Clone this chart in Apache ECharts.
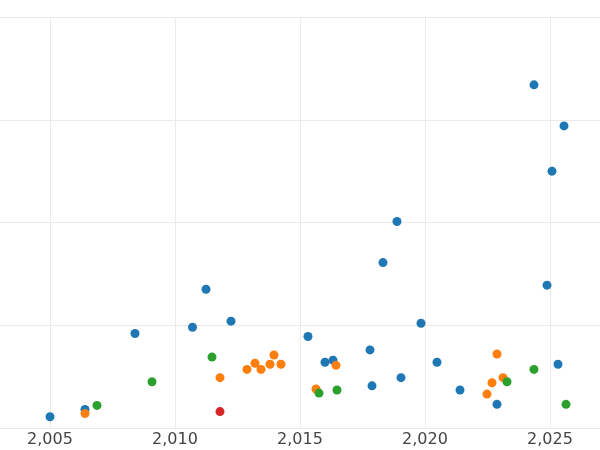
<!DOCTYPE html>
<html>
<head>
<meta charset="utf-8">
<script src="https://cdn.jsdelivr.net/npm/echarts@6/dist/echarts.min.js"></script>
<style>html,body{margin:0;padding:0;background:#fff}#main{width:600px;height:450px}</style>
</head>
<body>
<div id="main"></div>
<script>
const xTicks = [2005, 2010, 2015, 2020, 2025];
const blueX = [2005.0, 2006.4, 2008.4, 2010.7, 2011.24, 2012.24, 2015.32, 2016.0, 2016.32, 2017.8, 2017.88, 2018.32, 2018.88, 2019.04, 2019.84, 2020.48, 2021.4, 2022.88, 2024.36, 2024.88, 2025.08, 2025.32, 2025.56];
const blueY = [0.11, 0.18, 0.92, 0.98, 1.35, 1.04, 0.89, 0.64, 0.66, 0.76, 0.41, 1.61, 2.01, 0.49, 1.02, 0.64, 0.37, 0.23, 3.34, 1.39, 2.50, 0.62, 2.94];
const orangeX = [2006.4, 2011.8, 2012.88, 2013.2, 2013.44, 2013.8, 2013.96, 2014.24, 2015.64, 2016.44, 2022.48, 2022.68, 2022.88, 2023.12];
const orangeY = [0.14, 0.49, 0.57, 0.63, 0.57, 0.62, 0.71, 0.62, 0.38, 0.61, 0.33, 0.44, 0.72, 0.49];
const greenX = [2006.88, 2009.08, 2011.48, 2015.76, 2016.48, 2023.28, 2024.36, 2025.64];
const greenY = [0.22, 0.45, 0.69, 0.34, 0.37, 0.45, 0.57, 0.23];
const redX = [2011.8];
const redY = [0.16];

function pts(xs, ys) { return xs.map((x, i) => [x, ys[i]]); }

let myChart = echarts.init(document.getElementById('main'));
let mk = (xs, ys, color) => ({
	type: 'scatter', symbolSize: 9, data: pts(xs, ys),
	itemStyle: {color: color, opacity: 1}
});
myChart.setOption({
	animation: false,
	grid: {left: 0, right: 0, top: 17, bottom: 22, containLabel: false},
	xAxis: {
		type: 'value', min: 2003, max: 2027,
		axisLine: {show: false},
		axisTick: {show: false, customValues: xTicks},
		splitLine: {show: true, lineStyle: {color: '#ebebeb'}},
		axisLabel: {color: '#444', fontSize: 16, fontFamily: 'DejaVu Sans', customValues: xTicks, margin: 4}
	},
	yAxis: {
		type: 'value', min: 0, max: 4, interval: 1,
		axisLine: {show: false}, axisTick: {show: false}, axisLabel: {show: false},
		splitLine: {lineStyle: {color: '#ebebeb'}}
	},
	series: [
		mk(blueX, blueY, '#1f77b4'),
		mk(orangeX, orangeY, '#ff7f0e'),
		mk(greenX, greenY, '#2ca02c'),
		mk(redX, redY, '#d62728')
	]
});
</script>
</body>
</html>
